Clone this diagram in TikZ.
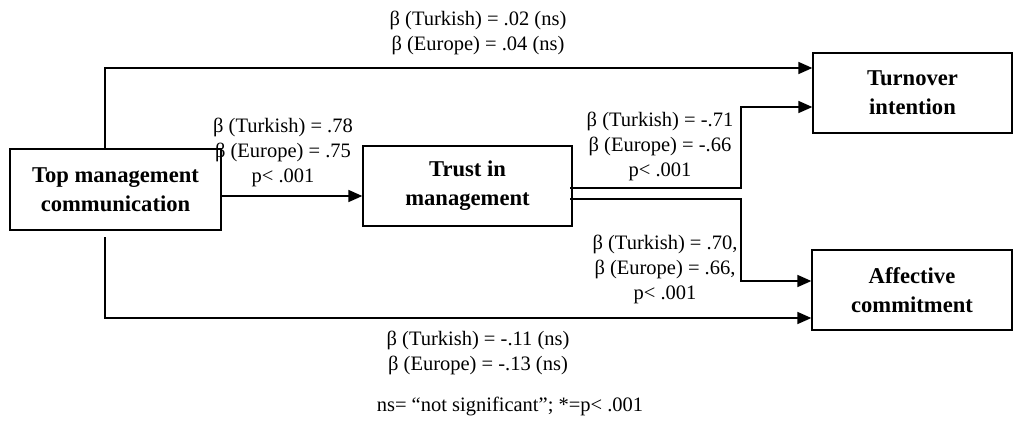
\documentclass[tikz,border=0pt]{standalone}
\usepackage{fontspec}
\setmainfont{Liberation Serif}
\usetikzlibrary{arrows.meta,calc}
\begin{document}
\begin{tikzpicture}[x=1pt,y=-1pt,
  box/.style={draw,line width=1.3pt,align=center,font=\fontsize{22.6}{29}\selectfont\bfseries,inner sep=0pt},
  lab/.style={align=center,font=\fontsize{20.5}{25}\selectfont,inner sep=0pt},
  conn/.style={line width=1.6pt},
  arr/.style={conn,-{Triangle[length=14pt,width=12pt]}}]
\useasboundingbox (0,0) rectangle (1019,434);
\node[box,minimum width=211pt,minimum height=81pt] (tmc) at (115.5,189.5) {Top management\\communication};
\node[box,minimum width=209pt,minimum height=80pt] (trust) at (467.5,186) {Trust in\\management};
\node[box,minimum width=199pt,minimum height=80pt] (to) at (912.5,93) {Turnover\\intention};
\node[box,minimum width=200pt,minimum height=80pt] (ac) at (912,290) {Affective\\commitment};
% corners of connectors
\coordinate (c1) at (105,68);
\coordinate (b0) at (105,237);
\coordinate (b1) at (105,318);
\coordinate (t0) at (570,188);
\coordinate (t1) at (741,188);
\coordinate (t2) at (741,107);
\coordinate (a0) at (570,199);
\coordinate (a1) at (741,199);
\coordinate (a2) at (741,281);
\draw[arr] (tmc.north -| c1) -- (c1) -- (c1 -| to.west);
\draw[arr] (b0) -- (b1) -- (b1 -| ac.west);
\draw[arr] (tmc.east |- 0,196) -- (trust.west |- 0,196);
\draw[arr] (t0) -- (t1) -- (t2) -- (t2 -| to.west);
\draw[arr] (a0) -- (a1) -- (a2) -- (a2 -| ac.west);
% labels
\node[lab] (l1) at (478,33) {β (Turkish) = .02 (ns)\\β (Europe) = .04 (ns)};
\node[lab] (l2) at (283,152) {β (Turkish) = .78\\β (Europe) = .75\\p< .001};
\node[lab] (l3) at (660,146) {β (Turkish) = -.71\\β (Europe) = -.66\\p< .001};
\node[lab] (l4) at (665,269) {β (Turkish) = .70,\\β (Europe) = .66,\\p< .001};
\node[lab] (l5) at (478,353) {β (Turkish) = -.11 (ns)\\β (Europe) = -.13 (ns)};
\node[lab] (l6) at (510,406) {ns= “not significant”; *=p< .001};
\end{tikzpicture}
\end{document}
